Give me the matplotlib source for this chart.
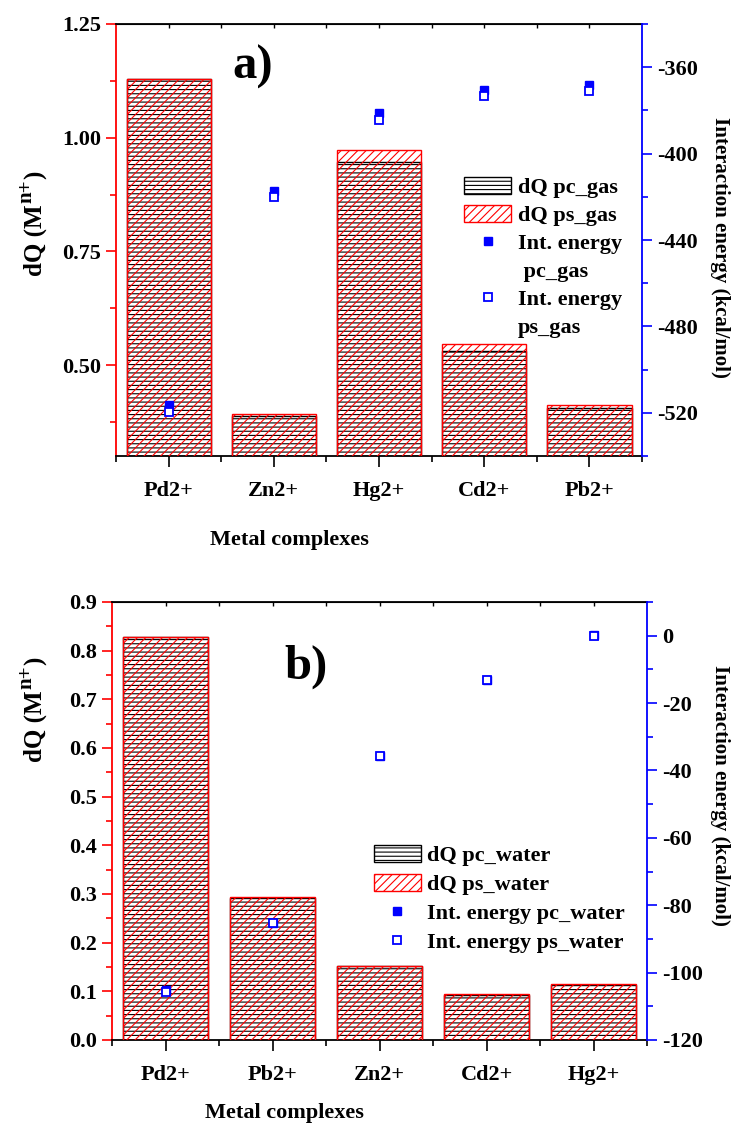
import numpy as np
import matplotlib
matplotlib.use('Agg')
import matplotlib.pyplot as plt
import matplotlib.transforms as mtransforms
from matplotlib.patches import Patch
from matplotlib.lines import Line2D
from matplotlib.ticker import MultipleLocator, FormatStrFormatter

plt.rcParams['font.family'] = ['Liberation Serif', 'DejaVu Serif']
plt.rcParams['font.weight'] = 'bold'
plt.rcParams['axes.labelweight'] = 'bold'
plt.rcParams['axes.unicode_minus'] = False
plt.rcParams['hatch.linewidth'] = 0.8

# ── Data: gas phase ───────────────────────────────────────────────────────────
gas_metals = ['Pd2+', 'Zn2+', 'Hg2+', 'Cd2+', 'Pb2+']
gas_dq_pc = [1.13, 0.388, 0.947, 0.531, 0.406]
gas_dq_ps = [1.13, 0.393, 0.972, 0.546, 0.412]
gas_e_pc = [-516.4, -417.4, -381.4, -370.7, -368.4]
gas_e_ps = [-519.6, -420.2, -384.6, -373.3, -371.1]

# ── Data: water ───────────────────────────────────────────────────────────────
wat_metals = ['Pd2+', 'Pb2+', 'Zn2+', 'Cd2+', 'Hg2+']
wat_dq_pc = [0.827, 0.291, 0.151, 0.093, 0.112]
wat_dq_ps = [0.827, 0.294, 0.153, 0.095, 0.115]
wat_e_pc = [-105.2, -85.3, -35.8, -13.2, 0.3]
wat_e_ps = [-105.7, -85.3, -35.8, -13.2, 0.0]

FS = 16
BW = 0.8
RED, BLUE = '#ff0000', '#0000ff'
PX = mtransforms.IdentityTransform()


def dq_label(fig, x_px, y_px):
    """Vertical 'dQ (M^n+)' with a full-size superscript, drawn piecewise."""
    kw = dict(rotation=90, rotation_mode='anchor', ha='left', va='baseline',
              transform=PX, fontweight='bold')
    t1 = fig.text(x_px, y_px, 'dQ (M', fontsize=18, **kw)
    fig.canvas.draw()
    y1 = t1.get_window_extent().y1
    t2 = fig.text(x_px - 11, y1 + 1, 'n+', fontsize=15, **kw)
    fig.canvas.draw()
    y2 = t2.get_window_extent().y1
    fig.text(x_px, y2 + 1, ')', fontsize=18, **kw)


def draw_panel(ax, metals, dq_pc, dq_ps, e_pc, e_ps, ylim, ymaj, ymin, yfmt,
               elim, emaj, emin, tag, tag_xy, solv, legend_xy, split_legend,
               lspace, elab_xy, xlab_xy):
    x = np.arange(1, len(metals) + 1)
    ax.bar(x, dq_pc, width=BW, color='white', edgecolor='black',
           hatch='----', lw=1.0, zorder=2)
    ax.bar(x, dq_ps, width=BW, color='none', edgecolor=RED,
           hatch='////', lw=1.0, zorder=3)
    ax.set_xlim(0.5, 5.5)
    ax.set_ylim(*ylim)
    ax.set_xticks(x)
    ax.set_xticklabels(metals)
    ax.set_xticks(np.arange(0.5, 5.6, 1.0), minor=True)
    ax.yaxis.set_major_locator(MultipleLocator(ymaj))
    ax.yaxis.set_minor_locator(MultipleLocator(ymin))
    ax.yaxis.set_major_formatter(FormatStrFormatter(yfmt))
    ax.tick_params(axis='x', which='major', length=8, width=1.2, pad=10,
                   labelsize=FS, top=False)
    ax.tick_params(axis='x', which='minor', length=4, width=1.2, top=False)
    ax.tick_params(axis='y', which='major', length=7, width=1.2, color=RED,
                   pad=4, labelsize=FS)
    ax.tick_params(axis='y', which='minor', length=4, width=1.2, color=RED)
    ax.spines['left'].set_color(RED)
    ax.spines['right'].set_visible(False)
    for sp in ['left', 'top', 'bottom']:
        ax.spines[sp].set_linewidth(1.3)

    # short inward ticks along the top edge
    top = ax.secondary_xaxis('top')
    top.set_xticks(np.arange(1.0, 5.5, 0.5))
    top.set_xticklabels([])
    top.tick_params(direction='in', length=3, width=1.0)

    ax.set_xlabel('Metal complexes', fontsize=FS)
    ax.xaxis.set_label_coords(*xlab_xy)

    ax2 = ax.twinx()
    ax2.plot(x, e_pc, 's', color=BLUE, ms=5.8, zorder=4)
    ax2.plot(x, e_ps, 's', mfc='white', mec=BLUE, mew=1.3, ms=5.8, zorder=5)
    ax2.set_ylim(*elim)
    ax2.yaxis.set_major_locator(MultipleLocator(emaj))
    ax2.yaxis.set_minor_locator(MultipleLocator(emin))
    ax2.tick_params(axis='y', which='major', length=7, width=1.2, color=BLUE,
                    pad=4, labelsize=FS)
    ax2.tick_params(axis='y', which='minor', length=4, width=1.2, color=BLUE)
    ax2.spines['right'].set_color(BLUE)
    ax2.spines['right'].set_linewidth(1.3)
    ax2.spines['left'].set_visible(False)
    ax2.spines['top'].set_visible(False)
    ax2.spines['bottom'].set_visible(False)
    ax2.set_ylabel('Interaction energy (kcal/mol)', fontsize=15,
                   rotation=270, va='center')
    ax2.yaxis.set_label_coords(*elab_xy)

    ax.text(*tag_xy, tag, transform=ax.transAxes, fontsize=35,
            fontweight='bold', ha='center', va='center')

    h_pc = Patch(facecolor='white', edgecolor='black', hatch='----', lw=1.0)
    h_ps = Patch(facecolor='white', edgecolor=RED, hatch='////', lw=1.0)
    m_pc = Line2D([], [], ls='none', marker='s', color=BLUE, ms=5.8)
    m_ps = Line2D([], [], ls='none', marker='s', mfc='white', mec=BLUE,
                  mew=1.3, ms=5.8)
    blank = Line2D([], [], ls='none')
    if split_legend:
        handles = [h_pc, h_ps, m_pc, blank, m_ps, blank]
        labels = [f'dQ pc_{solv}', f'dQ ps_{solv}', 'Int. energy',
                  f' pc_{solv}', 'Int. energy', f'ps_{solv}']
    else:
        handles = [h_pc, h_ps, m_pc, m_ps]
        labels = [f'dQ pc_{solv}', f'dQ ps_{solv}',
                  f'Int. energy pc_{solv}', f'Int. energy ps_{solv}']
    ax2.legend(handles, labels, loc='upper left', bbox_to_anchor=legend_xy,
               frameon=False, fontsize=FS, handlelength=2.1,
               handleheight=0.77, handletextpad=0.3, labelspacing=lspace,
               borderaxespad=0, borderpad=0)
    return ax2


fig = plt.figure(figsize=(7.33, 11.26), dpi=100)
ax_a = fig.add_axes([0.1583, 0.595, 0.7176, 0.3837])
ax_b = fig.add_axes([0.1528, 0.0764, 0.7299, 0.3890])

draw_panel(ax_a, gas_metals, gas_dq_pc, gas_dq_ps, gas_e_pc, gas_e_ps,
           (0.3, 1.25), 0.25, 0.125, '%.2f',
           (-540, -340), 40, 20, 'a)', (0.26, 0.9), 'gas',
           (0.662, 0.645), True, 0.31,
           (1.148, 0.483), (0.329, -0.171))

draw_panel(ax_b, wat_metals, wat_dq_pc, wat_dq_ps, wat_e_pc, wat_e_ps,
           (0.0, 0.9), 0.1, 0.05, '%.1f',
           (-120, 10), 20, 10, 'b)', (0.362, 0.853), 'water',
           (0.49, 0.4446), False, 0.36,
           (1.136, 0.559), (0.323, -0.144))

dq_label(fig, 42, 1126 - 276)
dq_label(fig, 42, 1126 - 762)

fig.savefig('out.png', dpi=100)
